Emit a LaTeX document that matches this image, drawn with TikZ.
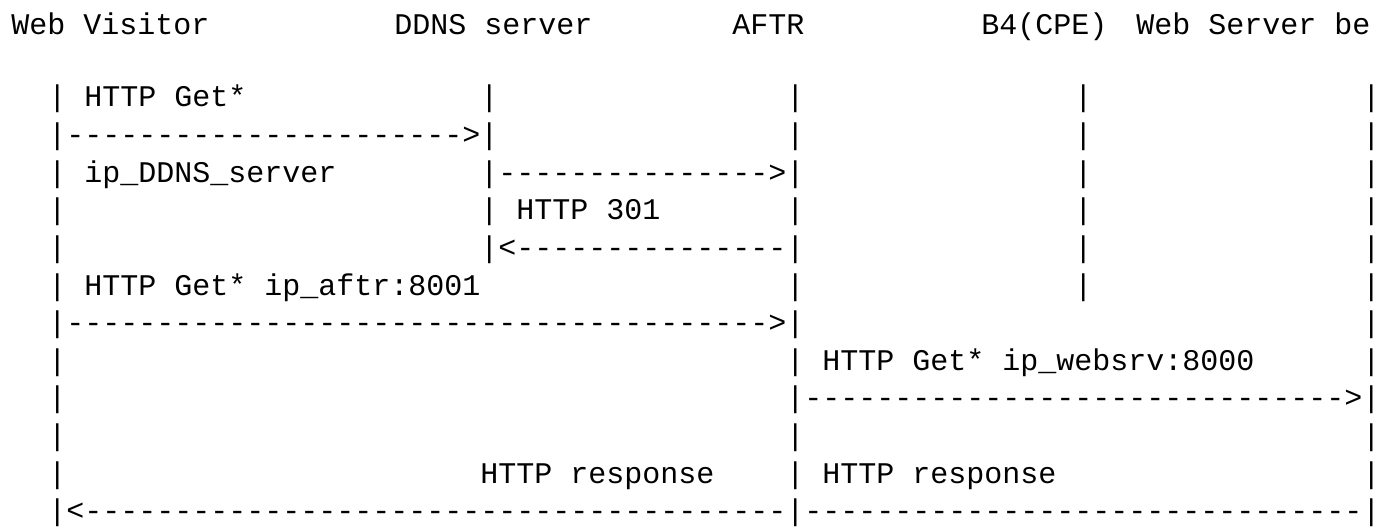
\documentclass[tikz,border=0pt]{standalone}
\usepackage{fontspec}
\setmonofont{Liberation Mono}
\ExplSyntaxOn
\cs_new:Npn \dashes #1 { \prg_replicate:nn {#1} {-} }
\ExplSyntaxOff
% column and row of the character grid, in pixels
\newcommand{\colx}[1]{-6.1+18*#1}
\newcommand{\rowy}[1]{107+37.6*(#1-1)}

\begin{document}
\begin{tikzpicture}[x=0.5pt, y=-0.5pt,
    ascii/.style={font=\ttfamily\fontsize{15}{18}\selectfont, inner sep=0pt, anchor=base west}]
  \useasboundingbox (0,0) rectangle (1379,529);

  %%%%% header %%%%%
  \node[ascii] (visitor) at (11,35)   {Web Visitor};
  \node[ascii] (ddns)    at (394,35)  {DDNS server};
  \node[ascii] (aftr)    at (732,35)  {AFTR};
  \node[ascii] (bfour)   at (981,35)  {B4(CPE)};
  \node[ascii] (websrv)  at (1136,35) {Web Server be};

  %%%%% life lines %%%%%
  \foreach \k in {1,...,12}
    \node[ascii] (lv\k) at ({\colx{3}},{\rowy{\k}}) {|};
  \foreach \k in {1,...,5}
    \node[ascii] (ld\k) at ({\colx{27}},{\rowy{\k}}) {|};
  \foreach \k in {1,...,12}
    \node[ascii] (la\k) at ({\colx{44}},{\rowy{\k}}) {|};
  \foreach \k in {1,...,6}
    \node[ascii] (lb\k) at ({\colx{60}},{\rowy{\k}}) {|};
  \foreach \k in {1,...,12}
    \node[ascii] (lw\k) at ({\colx{76}},{\rowy{\k}}) {|};

  %%%%% messages %%%%%
  \node[ascii] (get1)   at ({\colx{5}},{\rowy{1}})   {HTTP Get*};
  \node[ascii] (arr1)   at ({\colx{4}},{\rowy{2}})   {\dashes{22}>};
  \node[ascii] (ipddns) at ({\colx{5}},{\rowy{3}})   {ip\_DDNS\_server};
  \node[ascii] (arr2)   at ({\colx{28}},{\rowy{3}})  {\dashes{15}>};
  \node[ascii] (redir)  at ({\colx{29}},{\rowy{4}})  {HTTP 301};
  \node[ascii] (arr3)   at ({\colx{28}},{\rowy{5}})  {<\dashes{15}};
  \node[ascii] (get2)   at ({\colx{5}},{\rowy{6}})   {HTTP Get* ip\_aftr:8001};
  \node[ascii] (arr4)   at ({\colx{4}},{\rowy{7}})   {\dashes{39}>};
  \node[ascii] (get3)   at ({\colx{46}},{\rowy{8}})  {HTTP Get* ip\_websrv:8000};
  \node[ascii] (arr5)   at ({\colx{45}},{\rowy{9}})  {\dashes{30}>};
  \node[ascii] (resp1)  at ({\colx{27}},{\rowy{11}}) {HTTP response};
  \node[ascii] (resp2)  at ({\colx{46}},{\rowy{11}}) {HTTP response};
  \node[ascii] (arr6)   at ({\colx{4}},{\rowy{12}})  {<\dashes{39}};
  \node[ascii] (arr7)   at ({\colx{45}},{\rowy{12}}) {\dashes{31}};
\end{tikzpicture}
\end{document}
